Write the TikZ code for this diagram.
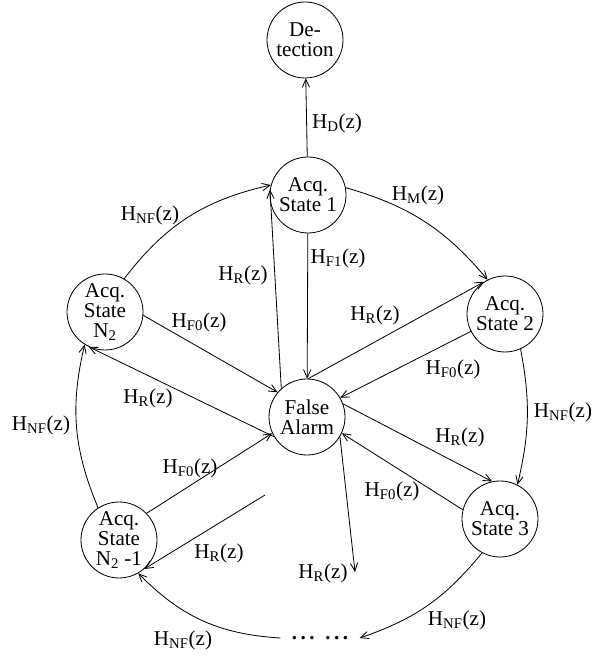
\documentclass[tikz,border=0pt]{standalone}
\usepackage{fontspec}
\setmainfont{Liberation Serif}
\usetikzlibrary{arrows.meta}
\newcommand{\hz}[1]{H\textsubscript{#1}(z)}

\begin{document}
\begin{tikzpicture}[
  x=0.03cm, y=0.03cm,
  every node/.style={font=\fontsize{18}{17}\selectfont},
  state/.style={draw,circle,line width=0.7pt,minimum size=2.28cm,inner sep=0pt,align=center},
  lbl/.style={inner sep=0pt},
  arr/.style={-{Straight Barb[length=2.4mm,width=2.2mm]},line width=0.7pt}
]
\useasboundingbox (0,0) rectangle (594,657);
% states
\node[state] (det) at (305,617) {De-\\tection};
\node[state] (acq1) at (308,462) {Acq.\\State 1};
\node[state] (acq2) at (505,343) {Acq.\\State 2};
\node[state] (acq3) at (500,138) {Acq.\\State 3};
\node[state] (acqn) at (105,345) {Acq.\\State\\N\textsubscript{2}};
\node[state] (acqm) at (119,117) {Acq.\\State\\N\textsubscript{2} -1};
\node[state] (fa) at (307,240) {False\\Alarm};
\node[inner xsep=0.34cm,inner ysep=0pt] (dots) at (320,19) {\textbf{.\kern3pt.\kern3pt.\kern9pt.\kern3pt.\kern3pt.}};
\coordinate (rin) at (265,162);
\coordinate (rout) at (355,85);
% outer ring
\draw[arr] (acq1) -- (det);
\draw[arr] (acq1.11) to[bend left=17] (acq2.117);
\draw[arr] (acq2.-66) to[bend left=12] (acq3.63);
\draw[arr] (acq3.242) to[bend left=16] (dots.east);
\draw[arr] (dots.west) to[bend left=21] (acqm.-60);
\draw[arr] (acqm.123) to[bend left=18] (acqn.238);
\draw[arr] (acqn.60) to[bend left=20] (acq1.165);
% to and from false alarm
\draw[arr] (acq1) -- (fa);
\draw[arr] (fa.132) -- (acq1.172);
\draw[arr] (acqn.-5) -- (fa.140);
\draw[arr] (fa.211) -- (acqn.245);
\draw[arr] (acqm.44) -- (fa.205);
\draw[arr] (rin) -- (acqm.-49);
\draw[arr] (fa.-31) -- (rout);
\draw[arr] (acq3.166) -- (fa.-25);
\draw[arr] (fa.88) -- (acq2.123);
\draw[arr] (acq2.207) -- (fa.30);
\draw[arr] (fa.20) -- (acq3.102);
% labels
\node[lbl] (lD) at (337,534) {\hz{D}};
\node[lbl] (lM) at (418,462) {\hz{M}};
\node[lbl] (lNFa) at (150,442) {\hz{NF}};
\node[lbl] (lF1) at (338,399) {\hz{F1}};
\node[lbl] (lRa) at (243,382) {\hz{R}};
\node[lbl] (lF0a) at (199,335) {\hz{F0}};
\node[lbl] (lRb) at (375,342) {\hz{R}};
\node[lbl] (lF0b) at (453,288) {\hz{F0}};
\node[lbl] (lRc) at (148,259) {\hz{R}};
\node[lbl] (lNFb) at (563,245) {\hz{NF}};
\node[lbl] (lNFc) at (41,232) {\hz{NF}};
\node[lbl] (lRd) at (460,220) {\hz{R}};
\node[lbl] (lF0c) at (190,189) {\hz{F0}};
\node[lbl] (lF0d) at (392,166) {\hz{F0}};
\node[lbl] (lRe) at (219,104) {\hz{R}};
\node[lbl] (lRf) at (323,84) {\hz{R}};
\node[lbl] (lNFd) at (457,37) {\hz{NF}};
\node[lbl] (lNFe) at (183,17) {\hz{NF}};
\end{tikzpicture}
\end{document}
